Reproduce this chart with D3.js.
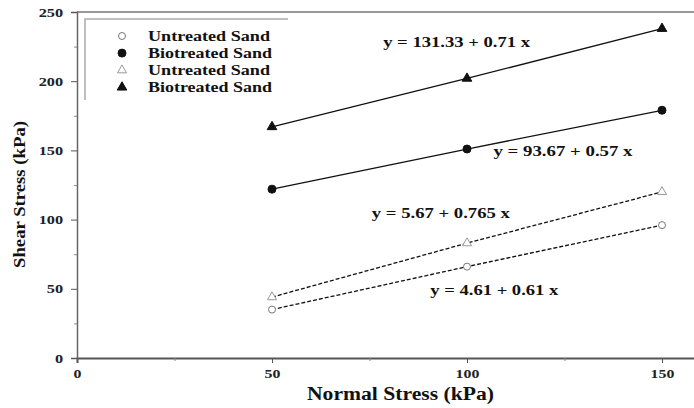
<!DOCTYPE html>
<html>
<head>
<meta charset="utf-8">
<script src="https://cdn.jsdelivr.net/npm/d3@7"></script>
<style>
  body { margin: 0; background: #fff; }
  text { font-family: "Liberation Serif", "Times New Roman", serif; font-weight: bold; }
</style>
</head>
<body>
<svg id="chart" width="694" height="408"></svg>
<script>
// normal stress (kPa)
const normalStress = [50, 100, 150];

// shear stress (kPa)
const untreatedCircle = [35, 66, 96];
const untreatedTriangle = [44, 83, 120];
const biotreatedCircle = [122, 151, 179];
const biotreatedTriangle = [167, 202, 238];

const xTicks = [0, 50, 100, 150];
const yTicks = [0, 50, 100, 150, 200, 250];

const legendLabels = ["Untreated Sand", "Biotreated Sand", "Untreated Sand", "Biotreated Sand"];
// label anchor in data units (normal stress, shear stress) and drawn width
const equations = [
    { text: "y = 131.33 + 0.71 x", x: 78.5, y: 225, w: 147 },
    { text: "y = 93.67 + 0.57 x", x: 106.8, y: 146, w: 139 },
    { text: "y = 5.67 + 0.765 x", x: 75.6, y: 101, w: 138 },
    { text: "y = 4.61 + 0.61 x", x: 90.6, y: 45.5, w: 128 }
];

const svg = d3.select("#chart");
const margin = { left: 77, top: 12, right: -7, bottom: 50 };
const width = 694;
const height = 408;

const x = d3.scaleLinear().domain([0, 160]).range([margin.left, width - margin.right]);
const y = d3.scaleLinear().domain([0, 250]).range([height - margin.bottom, margin.top]);

// the source figure is a little wider than its fonts
function stretch(sel, k) {
    sel.each(function () {
        const len = this.getComputedTextLength();
        d3.select(this).attr("textLength", len * k).attr("lengthAdjust", "spacingAndGlyphs");
    });
}

const series = [
    { values: untreatedCircle, symbol: "circle-open", dashed: true },
    { values: biotreatedCircle, symbol: "circle", dashed: false },
    { values: untreatedTriangle, symbol: "triangle-open", dashed: true },
    { values: biotreatedTriangle, symbol: "triangle", dashed: false }
];

// frame: top line
svg.append("line")
    .attr("x1", x(0)).attr("x2", width)
    .attr("y1", y(250)).attr("y2", y(250))
    .attr("stroke", "#777").attr("stroke-width", 1.5);

// axes
const xAxis = svg.append("g")
    .attr("transform", `translate(0,${y(0)})`)
    .call(d3.axisBottom(x).tickValues(xTicks).tickSize(5).tickPadding(6));
xAxis.select(".domain").attr("stroke", "#555").attr("stroke-width", 2);
xAxis.selectAll(".tick line").attr("stroke", "#555");
xAxis.selectAll("text").attr("font-size", 13).attr("fill", "#222").call(stretch, 1.22);

svg.append("g")
    .attr("transform", `translate(0,${y(0)})`)
    .call(d3.axisBottom(x).tickValues([25, 75, 125]).tickSize(3).tickFormat(""))
    .call((g) => g.select(".domain").remove())
    .selectAll(".tick line").attr("stroke", "#888");

const yAxis = svg.append("g")
    .attr("transform", `translate(${x(0)},0)`)
    .call(d3.axisLeft(y).tickValues(yTicks).tickSize(6).tickPadding(8));
yAxis.select(".domain").attr("stroke", "#666").attr("stroke-width", 1.5);
yAxis.selectAll(".tick line").attr("stroke", "#555");
yAxis.selectAll("text").attr("font-size", 13).attr("fill", "#222").call(stretch, 1.25);

svg.append("g")
    .attr("transform", `translate(${x(0)},0)`)
    .call(d3.axisLeft(y).tickValues([25, 75, 125, 175, 225]).tickSize(3).tickFormat(""))
    .call((g) => g.select(".domain").remove())
    .selectAll(".tick line").attr("stroke", "#888");

// axis titles
svg.append("text")
    .attr("x", 400.5).attr("y", 400)
    .attr("text-anchor", "middle")
    .attr("font-size", 18)
    .attr("fill", "#111")
    .attr("textLength", 187).attr("lengthAdjust", "spacingAndGlyphs")
    .text("Normal Stress (kPa)");

svg.append("text")
    .attr("transform", "translate(25,194.5) rotate(-90)")
    .attr("text-anchor", "middle")
    .attr("font-size", 17)
    .attr("fill", "#111")
    .attr("textLength", 147).attr("lengthAdjust", "spacingAndGlyphs")
    .text("Shear Stress (kPa)");

// lines
const line = d3.line()
    .x((d, i) => x(normalStress[i]))
    .y((d) => y(d));

series.forEach((s) => {
    svg.append("path")
        .datum(s.values)
        .attr("d", line)
        .attr("fill", "none")
        .attr("stroke", "#111")
        .attr("stroke-width", 1.3)
        .attr("stroke-dasharray", s.dashed ? "4,2" : null);
});

function drawSymbol(g, kind, cx, cy) {
    if (kind === "circle" || kind === "circle-open") {
        g.append("circle")
            .attr("cx", cx).attr("cy", cy)
            .attr("r", kind === "circle" ? 4 : 3.5)
            .attr("fill", kind === "circle" ? "#111" : "#fff")
            .attr("stroke", kind === "circle" ? "#111" : "#777")
            .attr("stroke-width", 1);
    } else {
        g.append("path")
            .attr("transform", `translate(${cx},${cy})`)
            .attr("d", d3.symbol().type(d3.symbolTriangle).size(kind === "triangle" ? 40 : 36)())
            .attr("fill", kind === "triangle" ? "#111" : "#fff")
            .attr("stroke", kind === "triangle" ? "#111" : "#999")
            .attr("stroke-width", 1);
    }
}

const marks = svg.append("g");
series.forEach((s) => {
    s.values.forEach((v, i) => drawSymbol(marks, s.symbol, x(normalStress[i]), y(v)));
});

// equations
svg.append("g")
    .selectAll("text")
    .data(equations)
    .join("text")
    .attr("x", (d) => x(d.x))
    .attr("y", (d) => y(d.y))
    .attr("font-size", 15)
    .attr("fill", "#111")
    .attr("textLength", (d) => d.w)
    .attr("lengthAdjust", "spacingAndGlyphs")
    .text((d) => d.text);

// legend
const legend = svg.append("g");
legend.append("path")
    .attr("d", "M85,100V19H288")
    .attr("fill", "none")
    .attr("stroke", "#aaa")
    .attr("stroke-width", 1.5);

legendLabels.forEach((label, i) => {
    const ly = 36 + i * 17.1;
    drawSymbol(legend, series[i].symbol, 122, ly);
    legend.append("text")
        .attr("x", 148).attr("y", ly + 4.5)
        .attr("font-size", 14)
        .attr("fill", "#111")
        .attr("textLength", i % 2 ? 124 : 122)
        .attr("lengthAdjust", "spacingAndGlyphs")
        .text(label);
});
</script>
</body>
</html>
